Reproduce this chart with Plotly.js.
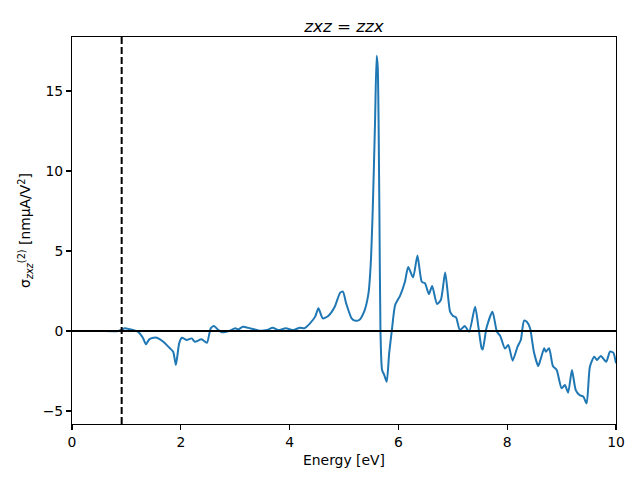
<!DOCTYPE html>
<html>
<head>
<meta charset="utf-8">
<script src="https://cdn.plot.ly/plotly-3.0.1.min.js"></script>
<style>html,body{margin:0;padding:0;background:#fff;}#plot{width:640px;height:480px;}</style>
</head>
<body>
<div id="plot"></div>
<script>
// Photon energy (eV)
const energy = [
  0, 0.5, 0.85, 0.91, 0.97, 1.05, 1.21, 1.30, 1.36, 1.42, 1.50, 1.56, 1.68, 1.80, 1.86, 1.91, 1.97,
  2.02, 2.11, 2.20, 2.26, 2.38, 2.48, 2.55, 2.61, 2.68, 2.75, 2.90, 3.00, 3.06, 3.14, 3.27, 3.33,
  3.46, 3.58, 3.69, 3.79, 3.93, 4.07, 4.19, 4.27, 4.375, 4.47, 4.53, 4.61, 4.71, 4.83, 4.93, 4.98,
  5.04, 5.14, 5.20, 5.28, 5.37, 5.45, 5.49, 5.53, 5.57, 5.60, 5.62, 5.65, 5.67, 5.70, 5.74, 5.785,
  5.83, 5.88, 5.94, 6.03, 6.12, 6.18, 6.27, 6.35, 6.43, 6.49, 6.56, 6.62, 6.71, 6.78, 6.86, 6.95,
  7.00, 7.06, 7.13, 7.22, 7.30, 7.41, 7.47, 7.53, 7.55, 7.62, 7.73, 7.81, 7.87, 7.96, 8.02, 8.10,
  8.19, 8.25, 8.31, 8.36, 8.42, 8.49, 8.57, 8.61, 8.68, 8.71, 8.77, 8.84, 8.91, 9.00, 9.06, 9.12,
  9.19, 9.26, 9.33, 9.40, 9.46, 9.52, 9.60, 9.65, 9.72, 9.82, 9.89, 9.95, 10.0
];
// sigma^(2)_zxz (nm uA / V^2)
const sigma = [
  0, 0, 0, 0.08, 0.17, 0.12, -0.04, -0.4, -0.83, -0.52, -0.42, -0.42, -0.67, -1.08, -1.29, -2.12, -0.77,
  -0.42, -0.56, -0.46, -0.67, -0.52, -0.73, 0.17, 0.31, 0.1, -0.08, 0.02, 0.17, 0.1, 0.27, 0.17, 0.125,
  0.02, 0.06, 0.21, 0.06, 0.17, 0.06, 0.21, 0.17, 0.48, 0.9, 1.42, 0.79, 0.94, 1.52, 2.4, 2.46,
  1.73, 0.79, 0.65, 0.69, 1.21, 2.35, 4.1, 7.77, 12.98, 17.2, 16.5, 7.77, 0.06, -2.44, -2.75, -3.17,
  -1.40, 0.06, 1.625, 2.2, 3.08, 4.0, 3.35, 4.72, 3.08, 2.98, 2.31, 2.81, 1.69, 1.94, 3.65, 1.21,
  0.96, 0.85, 0.06, 0.31, -0.04, 1.52, 0.27, -1.08, -1.15, 0.2, 1.21, -0.04, -0.3, -1.1, -0.87, -1.85,
  -0.98, -0.56, 0.65, 0.58, 0.17, -1.29, -2.19, -1.81, -1.08, -1.29, -1.08, -2.19, -2.44, -3.58, -3.375, -3.85,
  -2.44, -3.69, -4.0, -4.1, -4.52, -2.23, -1.6, -1.81, -1.56, -1.92, -1.29, -1.35, -2.02
];
const gapEnergy = [0.913];
const zeroLevel = [0];
const xTicks = [0, 2, 4, 6, 8, 10];
const yTicks = [-5, 0, 5, 10, 15];
const xRange = [0, 10];
const yRange = [-5.81, 18.375];

const font = 'DejaVu Sans, sans-serif';
const trace = {
  x: energy, y: sigma, type: 'scatter', mode: 'lines',
  line: {color: '#1f77b4', width: 2, shape: 'spline', smoothing: 0.6}, hoverinfo: 'skip'
};
const layout = {
  width: 640, height: 480,
  margin: {l: 72, r: 24, t: 37, b: 56, pad: 0},
  paper_bgcolor: '#fff', plot_bgcolor: '#fff',
  font: {family: font, size: 13.9, color: '#000'},
  showlegend: false,
  title: {text: '<i>zxz</i> = <i>zzx</i>', font: {family: font, size: 16.7, color: '#000'},
          x: 0.5, xref: 'paper', y: 1, yref: 'paper', yanchor: 'bottom', pad: {b: 5}},
  xaxis: {
    range: xRange, tickvals: xTicks, ticktext: xTicks.map(String),
    showgrid: false, zeroline: false, showline: true, mirror: true,
    linecolor: '#000', linewidth: 1.1, ticks: 'outside', ticklen: 4.9, tickwidth: 1.1, tickcolor: '#000',
    tickfont: {family: font, size: 13.9, color: '#000'},
    title: {text: 'Energy [eV]', font: {family: font, size: 13.9, color: '#000'}, standoff: 6}
  },
  yaxis: {
    range: yRange, tickvals: yTicks, ticktext: yTicks.map(v => v < 0 ? '\u2212' + Math.abs(v) : String(v)),
    showgrid: false, zeroline: false, showline: true, mirror: true,
    linecolor: '#000', linewidth: 1.1, ticks: 'outside', ticklen: 4.9, tickwidth: 1.1, tickcolor: '#000',
    tickfont: {family: font, size: 13.9, color: '#000'},
    title: {text: '\u03c3<sub><i>zxz</i></sub><sup>(2)</sup> [nm\u03bcA/V<sup>2</sup>]', font: {family: font, size: 13.9, color: '#000'}, standoff: 8}
  },
  shapes: [
    {type: 'line', xref: 'paper', x0: 0, x1: 1, yref: 'y', y0: zeroLevel[0], y1: zeroLevel[0],
     line: {color: '#000', width: 2}},
    {type: 'line', xref: 'x', x0: gapEnergy[0], x1: gapEnergy[0], yref: 'paper', y0: 0, y1: 1,
     line: {color: '#000', width: 2, dash: '7px,3px'}}
  ]
};
Plotly.newPlot('plot', [trace], layout, {staticPlot: true, displayModeBar: false});
</script>
</body>
</html>
